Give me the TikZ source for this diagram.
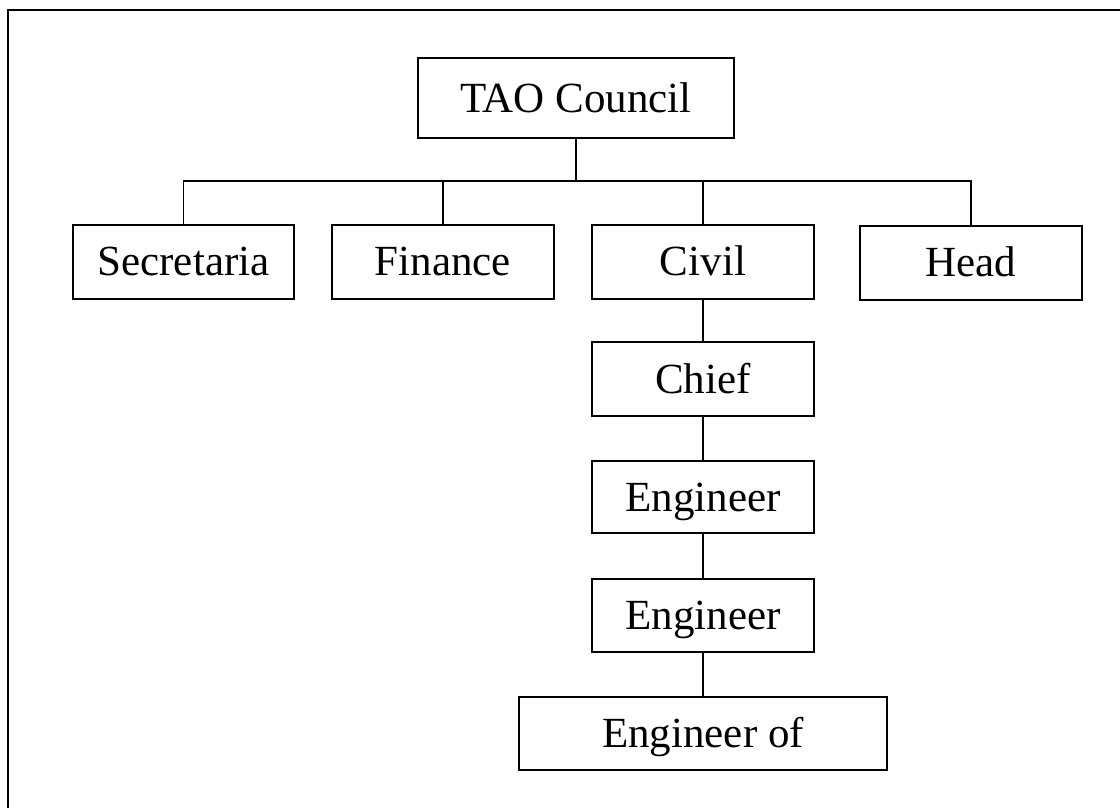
\documentclass[tikz,border=0pt]{standalone}
\usepackage{fontspec}
\setmainfont{Liberation Serif}
\begin{document}
\begin{tikzpicture}[x=0.5pt,y=-0.5pt,
    unit/.style={draw,line width=1pt,inner sep=0pt,minimum width=111pt,minimum height=37pt,
      font=\fontsize{21.5}{26}\selectfont,text height=14.2pt,text depth=0pt},
    link/.style={line width=0.75pt}]
      \useasboundingbox (0,0) rectangle (1120,808);
      \draw[line width=1pt] (8,808) -- (8,10) -- (1120,10);

      \node[unit,minimum width=158pt,minimum height=40pt] (tao) at (576,98) {TAO Council};
      \coordinate (bus) at (576,181);

      \node[unit,minimum width=110.5pt] (sec) at (183.5,261.5) {Secretaria};
      \node[unit] (fin) at (443,261.5) {Finance};
      \node[unit] (civ) at (703,261.5) {Civil};
      \node[unit] (head) at (971,262.5) {Head};

      \node[unit] (chief) at (703,379) {Chief};
      \node[unit,minimum height=36pt] (eng) at (703,497) {Engineer};
      \node[unit,minimum height=36.5pt] (engtwo) at (703,615.5) {Engineer};
      \node[unit,minimum width=184pt,minimum height=36.5pt] (engof) at (703,733.5) {Engineer of};

      \draw[link] (tao) -- (bus);
      \draw[link] (sec.north) -- (sec.north |- bus) -- (head.north |- bus) -- (head.north);
      \draw[link] (fin.north) -- (fin.north |- bus);
      \draw[link] (civ.north) -- (civ.north |- bus);
      \draw[link] (civ) -- (chief) -- (eng) -- (engtwo) -- (engof);
    \end{tikzpicture}
\end{document}
